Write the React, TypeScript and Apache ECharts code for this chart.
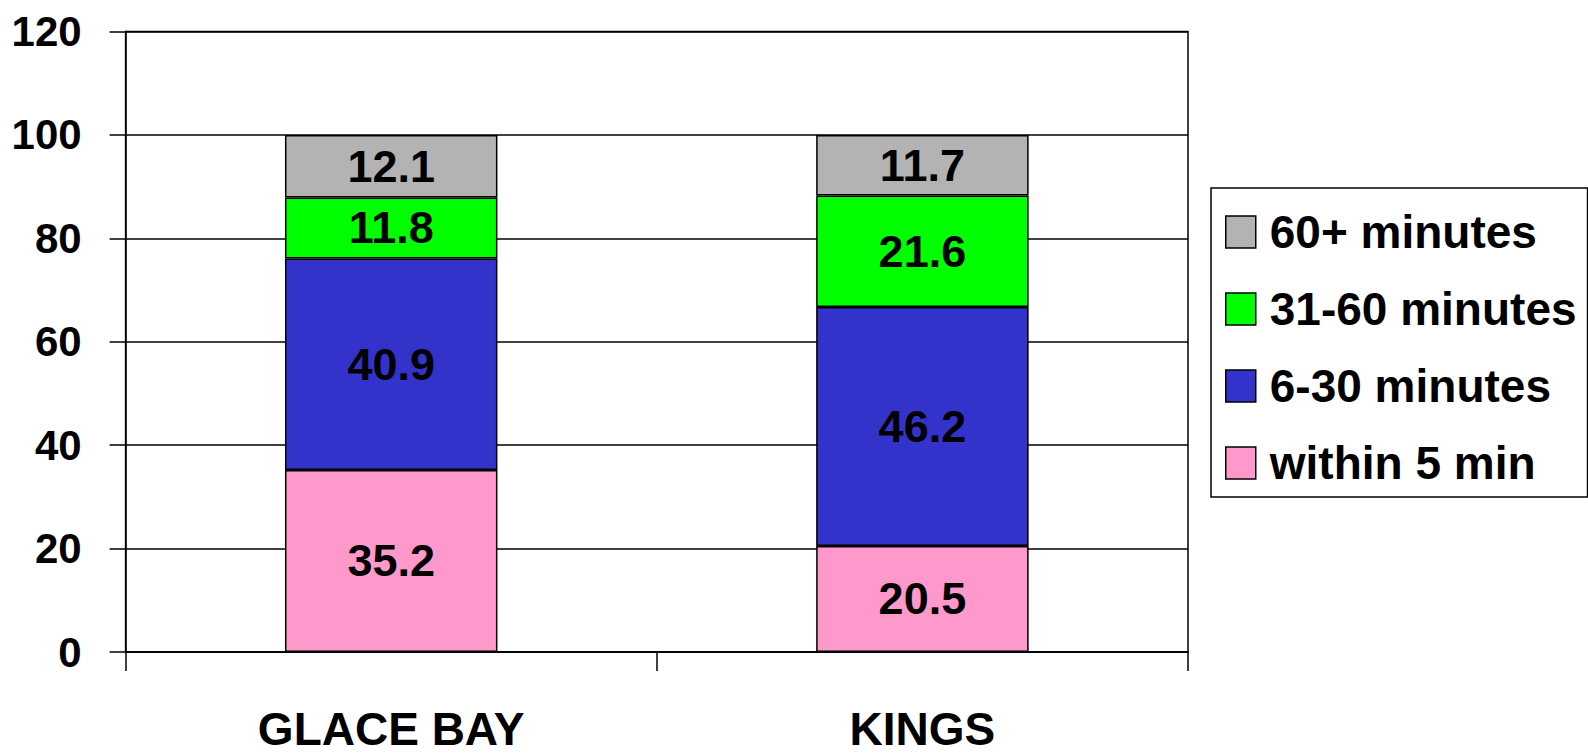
import React, { useEffect, useRef } from "react";
import * as echarts from "echarts";

const categories = ["GLACE BAY", "KINGS"];
const within5 = [35.2, 20.5];
const min6to30 = [40.9, 46.2];
const min31to60 = [11.8, 21.6];
const min60plus = [12.1, 11.7];
const seriesNames = ["within 5 min", "6-30 minutes", "31-60 minutes", "60+ minutes"];
const legendOrder = ["60+ minutes", "31-60 minutes", "6-30 minutes", "within 5 min"];
const colors = ["#FF99CC", "#3333CC", "#00FF00", "#B3B3B3"];

const FONT = '"Liberation Sans", Arial, sans-serif';

export default function App() {
  const ref = useRef<HTMLDivElement>(null);
  useEffect(() => {
    if (!ref.current) return;
    const chart = echarts.init(ref.current, null, { renderer: "svg" });
    const values = [within5, min6to30, min31to60, min60plus];
    chart.setOption({
      animation: false,
      backgroundColor: "#ffffff",
      grid: {
        left: 125.6,
        right: 400,
        top: 31.5,
        bottom: 103,
        outerBoundsMode: "none",
        containLabel: false,
        show: true,
        borderColor: "#000",
        borderWidth: 1.5,
        backgroundColor: "transparent",
      },
      legend: {
        orient: "vertical",
        left: 1211,
        top: 188,
        data: legendOrder,
        icon: "rect",
        itemWidth: 30,
        itemHeight: 32,
        itemGap: 31,
        borderColor: "#000",
        borderWidth: 1.5,
        padding: [21, 11, 11, 14],
        selectedMode: false,
        itemStyle: { borderColor: "#000", borderWidth: 1.5 },
        textStyle: {
          fontFamily: FONT,
          fontWeight: "bold",
          fontSize: 46,
          lineHeight: 46,
          color: "#000",
          padding: [0, 0, 0, 9],
        },
      },
      xAxis: {
        type: "category",
        data: categories,
        boundaryGap: true,
        axisLine: { show: true, lineStyle: { color: "#000", width: 1.5 } },
        axisTick: { show: true, length: 19, alignWithLabel: false, lineStyle: { color: "#000", width: 1.5 } },
        axisLabel: {
          fontFamily: FONT,
          fontWeight: "bold",
          fontSize: 46,
          lineHeight: 40,
          color: "#000",
          margin: 57,
        },
      },
      yAxis: {
        type: "value",
        min: 0,
        max: 120,
        interval: 20,
        axisLine: { show: true, lineStyle: { color: "#000", width: 1.5 } },
        axisTick: { show: true, length: 16, lineStyle: { color: "#000", width: 1.5 } },
        splitLine: { show: true, lineStyle: { color: "#000", width: 1.5 } },
        axisLabel: {
          fontFamily: FONT,
          fontWeight: "bold",
          fontSize: 42,
          color: "#000",
          margin: 44,
        },
      },
      series: seriesNames.map((name, i) => ({
        name,
        type: "bar",
        stack: "total",
        barWidth: "40%",
        data: values[i],
        itemStyle: { color: colors[i], borderColor: "#000", borderWidth: 1.5 },
        label: {
          show: true,
          position: "inside",
          color: "#000",
          fontFamily: FONT,
          fontWeight: "bold",
          fontSize: 45,
          formatter: (p: any) => Number(p.value).toFixed(1),
        },
      })),
    });
    return () => chart.dispose();
  }, []);
  return (
    <div
      ref={ref}
      style={{ position: "fixed", left: 0, top: 0, width: 1588, height: 755 }}
    />
  );
}
